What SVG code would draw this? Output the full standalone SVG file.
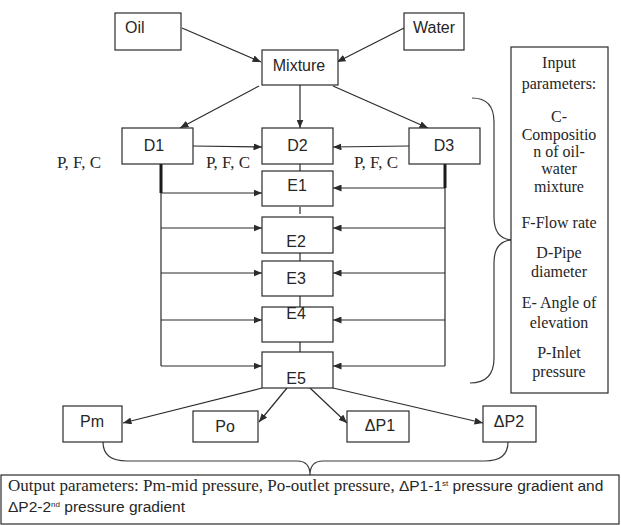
<svg xmlns="http://www.w3.org/2000/svg" width="621" height="525" viewBox="0 0 621 525">
  <defs>
    <style>
      .box { fill: #fff; stroke: #2b2b2b; stroke-width: 1.2; }
      .ln { fill: none; stroke: #2b2b2b; stroke-width: 1.2; }
      .arr { fill: none; stroke: #2b2b2b; stroke-width: 1.2; marker-end: url(#ah); }
      .thick { fill: none; stroke: #1a1a1a; stroke-width: 3; }
      .brace { fill: none; stroke: #3a3a3a; stroke-width: 1.2; }
      .lbl { font-family: "Liberation Sans", Arial, sans-serif; font-size: 16px; fill: #262626; text-anchor: middle; }
      .ser { font-family: "Liberation Serif", "Times New Roman", serif; font-size: 17px; fill: #262626; }
      .inp { text-anchor: middle; font-size: 16px; }
      .sans { font-family: "Liberation Sans", Arial, sans-serif; font-size: 15.5px; fill: #262626; }
      .sup { font-family: "Liberation Sans", Arial, sans-serif; font-size: 8px; fill: #262626; }
    </style>
    <marker id="ah" markerUnits="userSpaceOnUse" markerWidth="9" markerHeight="7" refX="8.5" refY="3.5" orient="auto">
      <path d="M0,0 L8.5,3.5 L0,7 z" fill="#2b2b2b"/>
    </marker>
  </defs>

  <!-- connectors -->
  <g id="connectors">
    <line class="arr" x1="182" y1="28" x2="261" y2="62"/>
    <line class="arr" x1="404" y1="28" x2="337" y2="62"/>
    <line class="arr" x1="259" y1="86" x2="180" y2="128"/>
    <line class="arr" x1="300" y1="85" x2="300" y2="128"/>
    <line class="arr" x1="333" y1="86" x2="428" y2="128"/>
    <line class="arr" x1="193" y1="146" x2="262" y2="147"/>
    <line class="arr" x1="409" y1="146" x2="333" y2="147"/>

    <!-- spine between stacked boxes -->
    <line class="ln" x1="300" y1="164" x2="300" y2="171"/>
    <line class="ln" x1="300" y1="207" x2="300" y2="214"/>
    <line class="ln" x1="300" y1="253" x2="300" y2="261"/>
    <line class="ln" x1="300" y1="296" x2="300" y2="307"/>
    <line class="ln" x1="300" y1="342" x2="300" y2="352"/>

    <!-- left feed from D1 -->
    <line class="thick" x1="161" y1="164" x2="161" y2="193"/>
    <line class="ln" x1="161" y1="193" x2="161" y2="366"/>
    <line class="arr" x1="161" y1="193" x2="262" y2="193"/>
    <line class="arr" x1="161" y1="228" x2="262" y2="228"/>
    <line class="arr" x1="161" y1="273" x2="262" y2="273"/>
    <line class="arr" x1="161" y1="320" x2="262" y2="320"/>
    <line class="arr" x1="161" y1="366" x2="262" y2="366"/>

    <!-- right feed from D3 -->
    <line class="thick" x1="445" y1="164" x2="445" y2="188"/>
    <line class="ln" x1="445" y1="188" x2="445" y2="366"/>
    <line class="arr" x1="445" y1="188" x2="333" y2="188"/>
    <line class="arr" x1="445" y1="228" x2="333" y2="228"/>
    <line class="arr" x1="445" y1="273" x2="333" y2="273"/>
    <line class="arr" x1="445" y1="320" x2="333" y2="320"/>
    <line class="arr" x1="445" y1="366" x2="333" y2="366"/>

    <!-- outputs from E5 -->
    <line class="arr" x1="262" y1="388" x2="123" y2="423"/>
    <line class="arr" x1="287" y1="388" x2="259" y2="422"/>
    <line class="arr" x1="310" y1="388" x2="347" y2="423"/>
    <line class="arr" x1="333" y1="388" x2="483" y2="423"/>

    <!-- braces -->
    <path class="brace" d="M472,98 Q494,98 494,122 L494,217 Q494,239 512,240 Q494,241 494,263 L494,358 Q494,383 470,383"/>
    <path class="brace" d="M103,442 Q103,461 127,461 L297,461 Q310,461 310,475 Q310,461 323,461 L485,461 Q508,461 508,442"/>
  </g>

  <g id="oil"><rect class="box" x="115" y="13" width="66" height="37"/><text class="lbl" x="125" y="33" style="text-anchor:start">Oil</text></g>
  <g id="water"><rect class="box" x="404" y="13" width="60" height="37"/><text class="lbl" x="413" y="33" style="text-anchor:start">Water</text></g>
  <g id="mixture"><rect class="box" x="262" y="50" width="76" height="35"/><text class="lbl" x="299" y="71">Mixture</text></g>

  <g id="d1"><rect class="box" x="122" y="128" width="71" height="36"/><text class="lbl" x="154" y="151">D1</text></g>
  <g id="d2"><rect class="box" x="262" y="128" width="71" height="36"/><text class="lbl" x="297.5" y="151">D2</text></g>
  <g id="d3"><rect class="box" x="409" y="128" width="71" height="36"/><text class="lbl" x="444" y="151">D3</text></g>

  <g id="pfc-labels">
    <text class="ser" x="57" y="168">P, F, C</text>
    <text class="ser" x="206" y="168">P, F, C</text>
    <text class="ser" x="354" y="168">P, F, C</text>
  </g>

  <g id="e1"><rect class="box" x="262" y="171" width="71" height="35"/><text class="lbl" x="297" y="191">E1</text></g>
  <g id="e2"><rect class="box" x="262" y="217" width="71" height="36"/><text class="lbl" x="296" y="247">E2</text></g>
  <g id="e3"><rect class="box" x="262" y="261" width="71" height="35"/><text class="lbl" x="296" y="284">E3</text></g>
  <g id="e4"><rect class="box" x="262" y="307" width="71" height="35"/><text class="lbl" x="296" y="319">E4</text></g>
  <g id="e5"><rect class="box" x="262" y="352" width="71" height="36"/><text class="lbl" x="296" y="384">E5</text></g>

  <g id="pm"><rect class="box" x="63" y="406" width="59" height="36"/><text class="lbl" x="92" y="427">Pm</text></g>
  <g id="po"><rect class="box" x="193" y="411" width="65" height="31"/><text class="lbl" x="225" y="432">Po</text></g>
  <g id="dp1"><rect class="box" x="347" y="411" width="62" height="31"/><text class="lbl" x="380" y="431">ΔP1</text></g>
  <g id="dp2"><rect class="box" x="483" y="406" width="53" height="36"/><text class="lbl" x="509" y="427">ΔP2</text></g>

  <g id="input-parameters">
    <rect class="box" x="511" y="47" width="97" height="346"/>
    <text class="ser inp" x="559" y="68">Input</text>
    <text class="ser inp" x="559" y="89">parameters:</text>
    <text class="ser inp" x="559" y="122">C-</text>
    <text class="ser inp" x="559" y="140">Compositio</text>
    <text class="ser inp" x="559" y="157">n of oil-</text>
    <text class="ser inp" x="559" y="174">water</text>
    <text class="ser inp" x="559" y="192">mixture</text>
    <text class="ser inp" x="559" y="228">F-Flow rate</text>
    <text class="ser inp" x="559" y="258">D-Pipe</text>
    <text class="ser inp" x="559" y="277">diameter</text>
    <text class="ser inp" x="559" y="308">E- Angle of</text>
    <text class="ser inp" x="559" y="328">elevation</text>
    <text class="ser inp" x="559" y="358">P-Inlet</text>
    <text class="ser inp" x="559" y="377">pressure</text>
  </g>

  <g id="output-parameters">
    <rect class="box" x="1" y="475" width="618" height="49"/>
    <text x="8" y="491"><tspan class="ser" font-size="16.5">Output parameters: Pm-mid pressure, Po-outlet pressure, </tspan><tspan class="sans">ΔP1-1</tspan><tspan class="sup" dy="-5">st</tspan><tspan class="sans" dy="5"> pressure gradient and</tspan></text>
    <text x="8" y="512"><tspan class="sans">ΔP2-2</tspan><tspan class="sup" dy="-5">nd</tspan><tspan class="sans" dy="5"> pressure gradient</tspan></text>
  </g>
</svg>
